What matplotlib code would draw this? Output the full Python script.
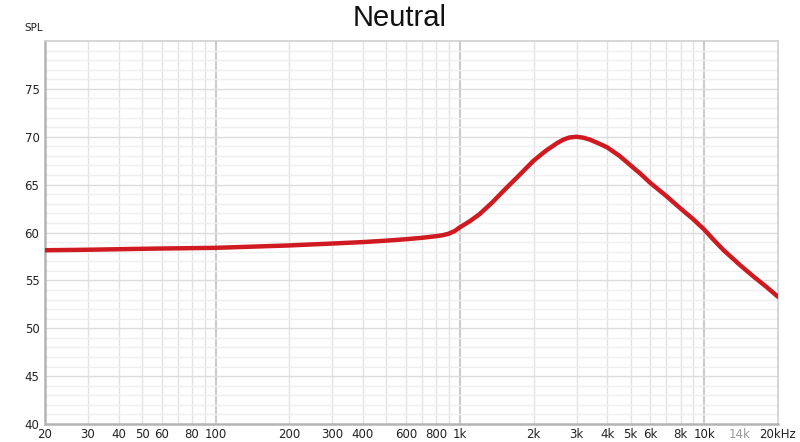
import numpy as np
import matplotlib.pyplot as plt

freq = [20, 30, 50, 100, 200, 300, 400, 500, 600, 700, 800, 850, 900, 950,
        1000, 1100, 1200, 1350, 1500, 1750, 2000, 2250, 2500, 2650, 2800,
        3000, 3200, 3400, 3700, 4000, 4500, 5000, 5500, 6000, 7000, 8000, 9000,
        10000, 11000, 12000, 13000, 14000, 16000, 18000, 20000]
spl = [58.15, 58.2, 58.3, 58.4, 58.65, 58.85, 59.0, 59.15, 59.3, 59.45, 59.62, 59.72, 59.88, 60.15,
       60.55, 61.2, 61.9, 63.1, 64.3, 66.0, 67.5, 68.55, 69.35, 69.7, 69.92,
       70.0, 69.9, 69.7, 69.3, 68.9, 68.0, 67.0, 66.1, 65.2, 63.8, 62.5, 61.4,
       60.3, 59.15, 58.15, 57.35, 56.6, 55.35, 54.3, 53.3]

xticks = [20, 30, 40, 50, 60, 80, 100, 200, 300, 400, 600, 800, 1000,
          2000, 3000, 4000, 5000, 6000, 8000, 10000, 14000, 20000]
xlabels = ["20", "30", "40", "50", "60", "80", "100", "200", "300", "400", "600", "800", "1k",
           "2k", "3k", "4k", "5k", "6k", "8k", "10k", "14k", "20kHz"]
yticks = [40, 45, 50, 55, 60, 65, 70, 75]

fig = plt.figure(figsize=(8, 4.42), dpi=100)
ax = fig.add_axes([0.05625, 0.0407, 0.916, 0.8665])
ax.set_xscale("log")
ax.set_xlim(20, 20000)
ax.set_ylim(40, 80)

# grid
for dec in [10, 100, 1000, 10000]:
    for m in range(1, 10):
        f = dec * m
        if f <= 20 or f >= 20000:
            continue
        major = m == 1
        ax.axvline(f, color="#cbcbcb" if major else "#e2e2e2",
                   lw=1.5 if major else 1.0, zorder=0)
for db in range(41, 80):
    ax.axhline(db, color="#dcdcdc" if db % 5 == 0 else "#efefef",
               lw=1.0, zorder=0)

ax.plot(freq, spl, color="#d01a22", lw=3.2, solid_capstyle="round",
        solid_joinstyle="round", zorder=3)

ax.minorticks_off()
ax.set_xticks(xticks)
ax.set_xticklabels(xlabels)
ax.set_yticks(yticks)
ax.tick_params(length=0, labelsize=8.5, colors="#222222", pad=3)
ax.tick_params(axis="y", pad=4)
for lbl in ax.get_xticklabels():
    if lbl.get_text() == "14k":
        lbl.set_color("#999999")

for side in ["left", "bottom"]:
    ax.spines[side].set_color("#b4b4b4")
    ax.spines[side].set_linewidth(1.8)
for side in ["top", "right"]:
    ax.spines[side].set_color("#cfcfcf")
    ax.spines[side].set_linewidth(1.2)

fig.text(0.03, 0.925, "SPL", fontsize=7.5, color="#222222", ha="left", va="bottom")
fig.text(0.5, 0.99, "Neutral", fontsize=21, family="Liberation Sans",
         ha="center", va="top", color="#111111")

fig.savefig("out.png", dpi=100)
